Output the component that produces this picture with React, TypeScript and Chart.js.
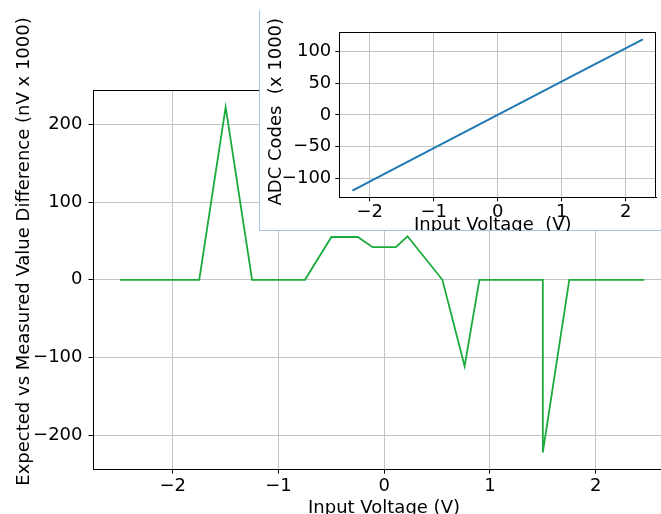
import React, { useEffect, useRef } from 'react';
import { Chart, registerables } from 'chart.js';

Chart.register(...registerables);

// Main chart data: input voltage (V) vs expected-measured difference (nV x 1000)
const mainVoltage = [-2.5, -1.75, -1.5, -1.25, -0.75, -0.5, -0.25, -0.11, 0.11, 0.22, 0.55, 0.76, 0.9, 1.5, 1.5, 1.75, 2.46];
const mainDiff = [0, 0, 222, 0, 0, 55, 55, 42, 42, 56, 0, -111, 0, 0, -222, 0, 0];
const mainXTicks = [-2, -1, 0, 1, 2];
const mainYTicks = [-200, -100, 0, 100, 200];

// Inset chart data: input voltage (V) vs ADC codes (x 1000)
const insetVoltage = [-2.27, -1.5, -0.75, 0, 0.75, 1.5, 2.27];
const insetCodes = [-119, -78.6, -39.3, 0, 39.3, 78.6, 119];
const insetXTicks = [-2, -1, 0, 1, 2];
const insetYTicks = [-100, -50, 0, 50, 100];

const FONT = 'DejaVu Sans';
const GREEN = '#1aab3b';
const BLUE = '#1f77b4';
const GRID = '#c4c4c4';

const fmt = (v: number) => (v < 0 ? '\u2212' + Math.abs(v) : String(v));

function spinesPlugin(opts: { top: boolean; right: boolean }) {
  return {
    id: 'spines',
    afterDatasetsDraw(chart: any) {
      const { ctx, chartArea } = chart;
      ctx.save();
      ctx.strokeStyle = '#000';
      ctx.lineWidth = 1;
      ctx.beginPath();
      if (opts.top) {
        ctx.moveTo(chartArea.left, Math.round(chartArea.top) + 0.5);
        ctx.lineTo(chartArea.right, Math.round(chartArea.top) + 0.5);
      }
      if (opts.right) {
        ctx.moveTo(Math.round(chartArea.right) - 0.5, chartArea.top);
        ctx.lineTo(Math.round(chartArea.right) - 0.5, chartArea.bottom);
      }
      ctx.stroke();
      ctx.restore();
    },
  };
}

function titlesPlugin(t: {
  x: string; xCx: number; xBase: number;
  y: string; yBase: number; yCy: number; size: number;
}) {
  return {
    id: 'titles',
    afterDraw(chart: any) {
      const { ctx } = chart;
      ctx.save();
      ctx.fillStyle = '#000';
      ctx.font = `${t.size}px "${FONT}"`;
      ctx.textAlign = 'center';
      ctx.textBaseline = 'alphabetic';
      ctx.fillText(t.x, t.xCx, t.xBase);
      ctx.translate(t.yBase, t.yCy);
      ctx.rotate(-Math.PI / 2);
      ctx.fillText(t.y, 0, 0);
      ctx.restore();
    },
  };
}

function axis(
  min: number, max: number, ticks: number[], size: number, fontSize: number,
  tickLen: number, pad: number, isX: boolean
) {
  return {
    type: 'linear' as const,
    min,
    max,
    afterBuildTicks: (s: any) => {
      s.ticks = ticks.map((v) => ({ value: v }));
    },
    afterFit: (s: any) => {
      if (isX) s.height = size;
      else s.width = size;
    },
    ticks: {
      callback: (v: any) => fmt(Number(v)),
      font: { family: FONT, size: fontSize },
      color: '#000',
      padding: pad,
      maxRotation: 0,
      autoSkip: false,
    },
    grid: { color: GRID, lineWidth: 1, tickLength: tickLen, tickColor: '#000' },
    border: { display: true, color: '#000', width: 1 },
  };
}

export default function App() {
  const mainRef = useRef<HTMLCanvasElement>(null);
  const insetRef = useRef<HTMLCanvasElement>(null);

  useEffect(() => {
    const main = new Chart(mainRef.current as HTMLCanvasElement, {
      type: 'line',
      data: {
        datasets: [
          {
            data: mainVoltage.map((x, i) => ({ x, y: mainDiff[i] })),
            borderColor: GREEN,
            borderWidth: 1.8,
            pointRadius: 0,
            tension: 0,
          },
        ],
      },
      options: {
        animation: false,
        responsive: false,
        maintainAspectRatio: false,
        events: [],
        layout: { padding: { left: 0, top: 90, right: 25, bottom: 0 } },
        plugins: { legend: { display: false }, tooltip: { enabled: false } },
        scales: {
          x: axis(-2.75, 2.75, mainXTicks, 44.4, 18, 4, 2, true),
          y: axis(-244, 244, mainYTicks, 93.5, 18, 5, 6, false),
        },
      } as any,
      plugins: [
        spinesPlugin({ top: true, right: false }),
        titlesPlugin({
          x: 'Input Voltage (V)', xCx: 384, xBase: 512.5,
          y: 'Expected vs Measured Value Difference (nV x 1000)', yBase: 29, yCy: 251.5, size: 18,
        }),
      ],
    });

    const inset = new Chart(insetRef.current as HTMLCanvasElement, {
      type: 'line',
      data: {
        datasets: [
          {
            data: insetVoltage.map((x, i) => ({ x, y: insetCodes[i] })),
            borderColor: BLUE,
            borderWidth: 2,
            pointRadius: 0,
            tension: 0,
          },
        ],
      },
      options: {
        animation: false,
        responsive: false,
        maintainAspectRatio: false,
        events: [],
        layout: { padding: { left: 0, top: 20.3, right: 5, bottom: 0 } },
        plugins: { legend: { display: false }, tooltip: { enabled: false } },
        scales: {
          x: axis(-2.475, 2.475, insetXTicks, 33.7, 18, 4, 0, true),
          y: axis(-129.5, 130, insetYTicks, 78.3, 18, 4, 4, false),
        },
      } as any,
      plugins: [
        spinesPlugin({ top: true, right: true }),
        titlesPlugin({
          x: 'Input Voltage  (V)', xCx: 231.8, xBase: 217.8,
          y: 'ADC Codes  (x 1000)', yBase: 19.7, yCy: 99.7, size: 18,
        }),
      ],
    });

    return () => {
      main.destroy();
      inset.destroy();
    };
  }, []);

  return (
    <div
      style={{
        position: 'absolute',
        left: 0,
        top: 0,
        width: 661,
        height: 514,
        overflow: 'hidden',
        background: '#fff',
      }}
    >
      <canvas
        ref={mainRef}
        width={700}
        height={514}
        style={{ position: 'absolute', left: 0, top: 0, width: 700, height: 514 }}
      />
      <div
        style={{
          position: 'absolute',
          left: 259,
          top: 10,
          width: 410,
          height: 221,
          boxSizing: 'border-box',
          background: '#fff',
          borderLeft: '1.5px solid #a9c0e2',
          borderBottom: '1.5px solid #a9c0e2',
        }}
      />
      <canvas
        ref={insetRef}
        width={400}
        height={219}
        style={{ position: 'absolute', left: 261, top: 12, width: 400, height: 219 }}
      />
    </div>
  );
}
